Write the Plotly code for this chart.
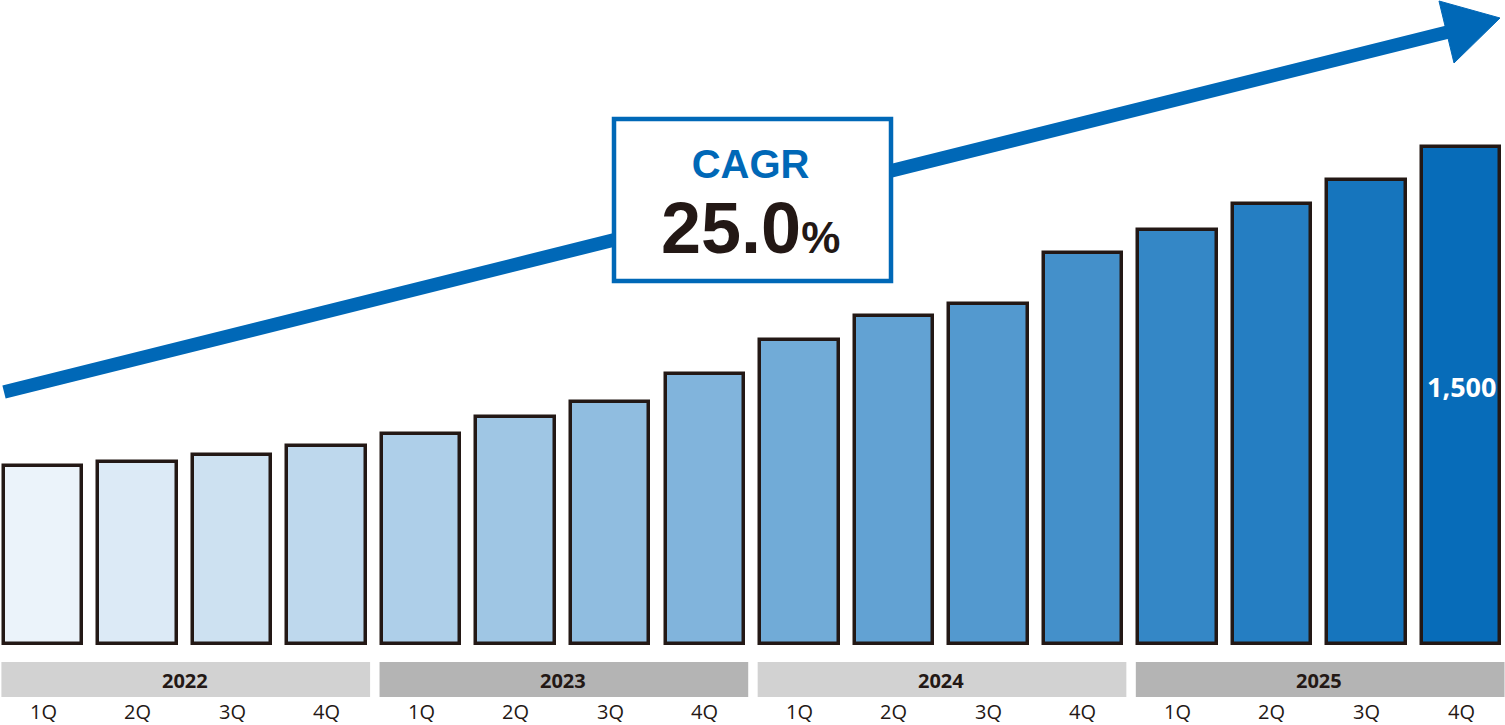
import plotly.graph_objects as go

# ---- data ----
quarters = ["1Q", "2Q", "3Q", "4Q"] * 4
years = ["2022", "2023", "2024", "2025"]
values = [536, 548, 569, 599, 635, 686, 731, 814, 919, 991, 1027, 1180, 1251, 1329, 1401, 1500]
value_label = "1,500"
cagr_label = "CAGR"
cagr_value = "25.0"

# ---- geometry helpers (layout only) ----
W, H = 1505, 725
n = len(values)
x_idx = list(range(n))
pitch = (1461 - 43) / 15.0
x0 = -43 / pitch
x1 = x0 + W / pitch
# y: value 0 at pixel 644, value 1500 at pixel 147
ppu = (644 - 147) / 1500.0
y_top = 1500 + 147 / ppu
y_bot = -(H - 644) / ppu


def px(x):
    return x / W


def py(y):
    return 1 - y / H


# colors: horizontal gradient from pale to deep blue across bars
c_start = (242, 247, 252)
c_end = (0, 104, 183)
colors = []
for i in x_idx:
    t = (43 + pitch * i - 2) / 1500.0
    r = [round(a + (b - a) * t) for a, b in zip(c_start, c_end)]
    colors.append("rgb(%d,%d,%d)" % tuple(r))

DARK = "#231815"
BLUE = "#0068b7"

fig = go.Figure()
fig.add_trace(go.Bar(
    x=x_idx, y=values, width=0.83,
    marker=dict(color=colors, line=dict(color=DARK, width=3.5)),
    hoverinfo="skip", showlegend=False,
))

shapes = []
annotations = []

# value label on the last bar
annotations.append(dict(x=x_idx[-1], y=py(386), xref="x", yref="paper",
                        text="<b>%s</b>" % value_label, showarrow=False,
                        font=dict(size=27, color="white", family="Open Sans"),
                        xanchor="center", yanchor="middle"))

# year bands
band_colors = ["#d2d2d2", "#b4b4b4", "#d2d2d2", "#b4b4b4"]
for k, yr in enumerate(years):
    shapes.append(dict(type="rect", xref="x", yref="paper",
                       x0=4 * k - 0.44, x1=4 * k + 3.46,
                       y0=py(697), y1=py(662),
                       fillcolor=band_colors[k], line=dict(width=0), layer="below"))
    annotations.append(dict(x=4 * k + 1.5, y=py(680), xref="x", yref="paper",
                            text="<b>%s</b>" % yr, showarrow=False,
                            font=dict(size=20, color=DARK, family="Open Sans"),
                            xanchor="center", yanchor="middle"))

# quarter labels
for i, q in enumerate(quarters):
    annotations.append(dict(x=i, y=py(711), xref="x", yref="paper",
                            text=q, showarrow=False,
                            font=dict(size=20, color=DARK, family="Open Sans"),
                            xanchor="center", yanchor="middle"))

# trend arrow
shapes.append(dict(type="line", xref="paper", yref="paper",
                   x0=px(4), y0=py(392), x1=px(1452), y1=py(31),
                   line=dict(color=BLUE, width=13.5)))
shapes.append(dict(type="path", xref="paper", yref="paper",
                   path="M %f %f L %f %f L %f %f Z" % (px(1439), py(1), px(1500), py(18), px(1454), py(63)),
                   fillcolor=BLUE, line=dict(color=BLUE, width=1)))

# CAGR box
shapes.append(dict(type="rect", xref="paper", yref="paper",
                   x0=px(614), x1=px(891), y0=py(281), y1=py(119),
                   fillcolor="white", line=dict(color=BLUE, width=4.5)))
annotations.append(dict(
    x=px(750), y=py(205), xref="paper", yref="paper",
    text=("<span style='font-size:40px;color:%s'><b>%s</b></span><br>"
          "<b><span style='font-size:72px'>%s</span><span style='font-size:44px'>%%</span></b>")
         % (BLUE, cagr_label, cagr_value),
    showarrow=False, align="center",
    font=dict(size=58, color=DARK, family="Liberation Sans"),
    xanchor="center", yanchor="middle"))

fig.update_layout(
    width=W, height=H, autosize=False,
    margin=dict(l=0, r=0, t=0, b=0, pad=0),
    paper_bgcolor="white", plot_bgcolor="white",
    xaxis=dict(range=[x0, x1], visible=False, fixedrange=True),
    yaxis=dict(range=[y_bot, y_top], visible=False, fixedrange=True),
    shapes=shapes, annotations=annotations,
    bargap=0, showlegend=False,
)

fig.write_html("out.html", config={"displayModeBar": False},
               post_script="document.body.style.margin='0px';document.body.style.overflow='hidden';")
